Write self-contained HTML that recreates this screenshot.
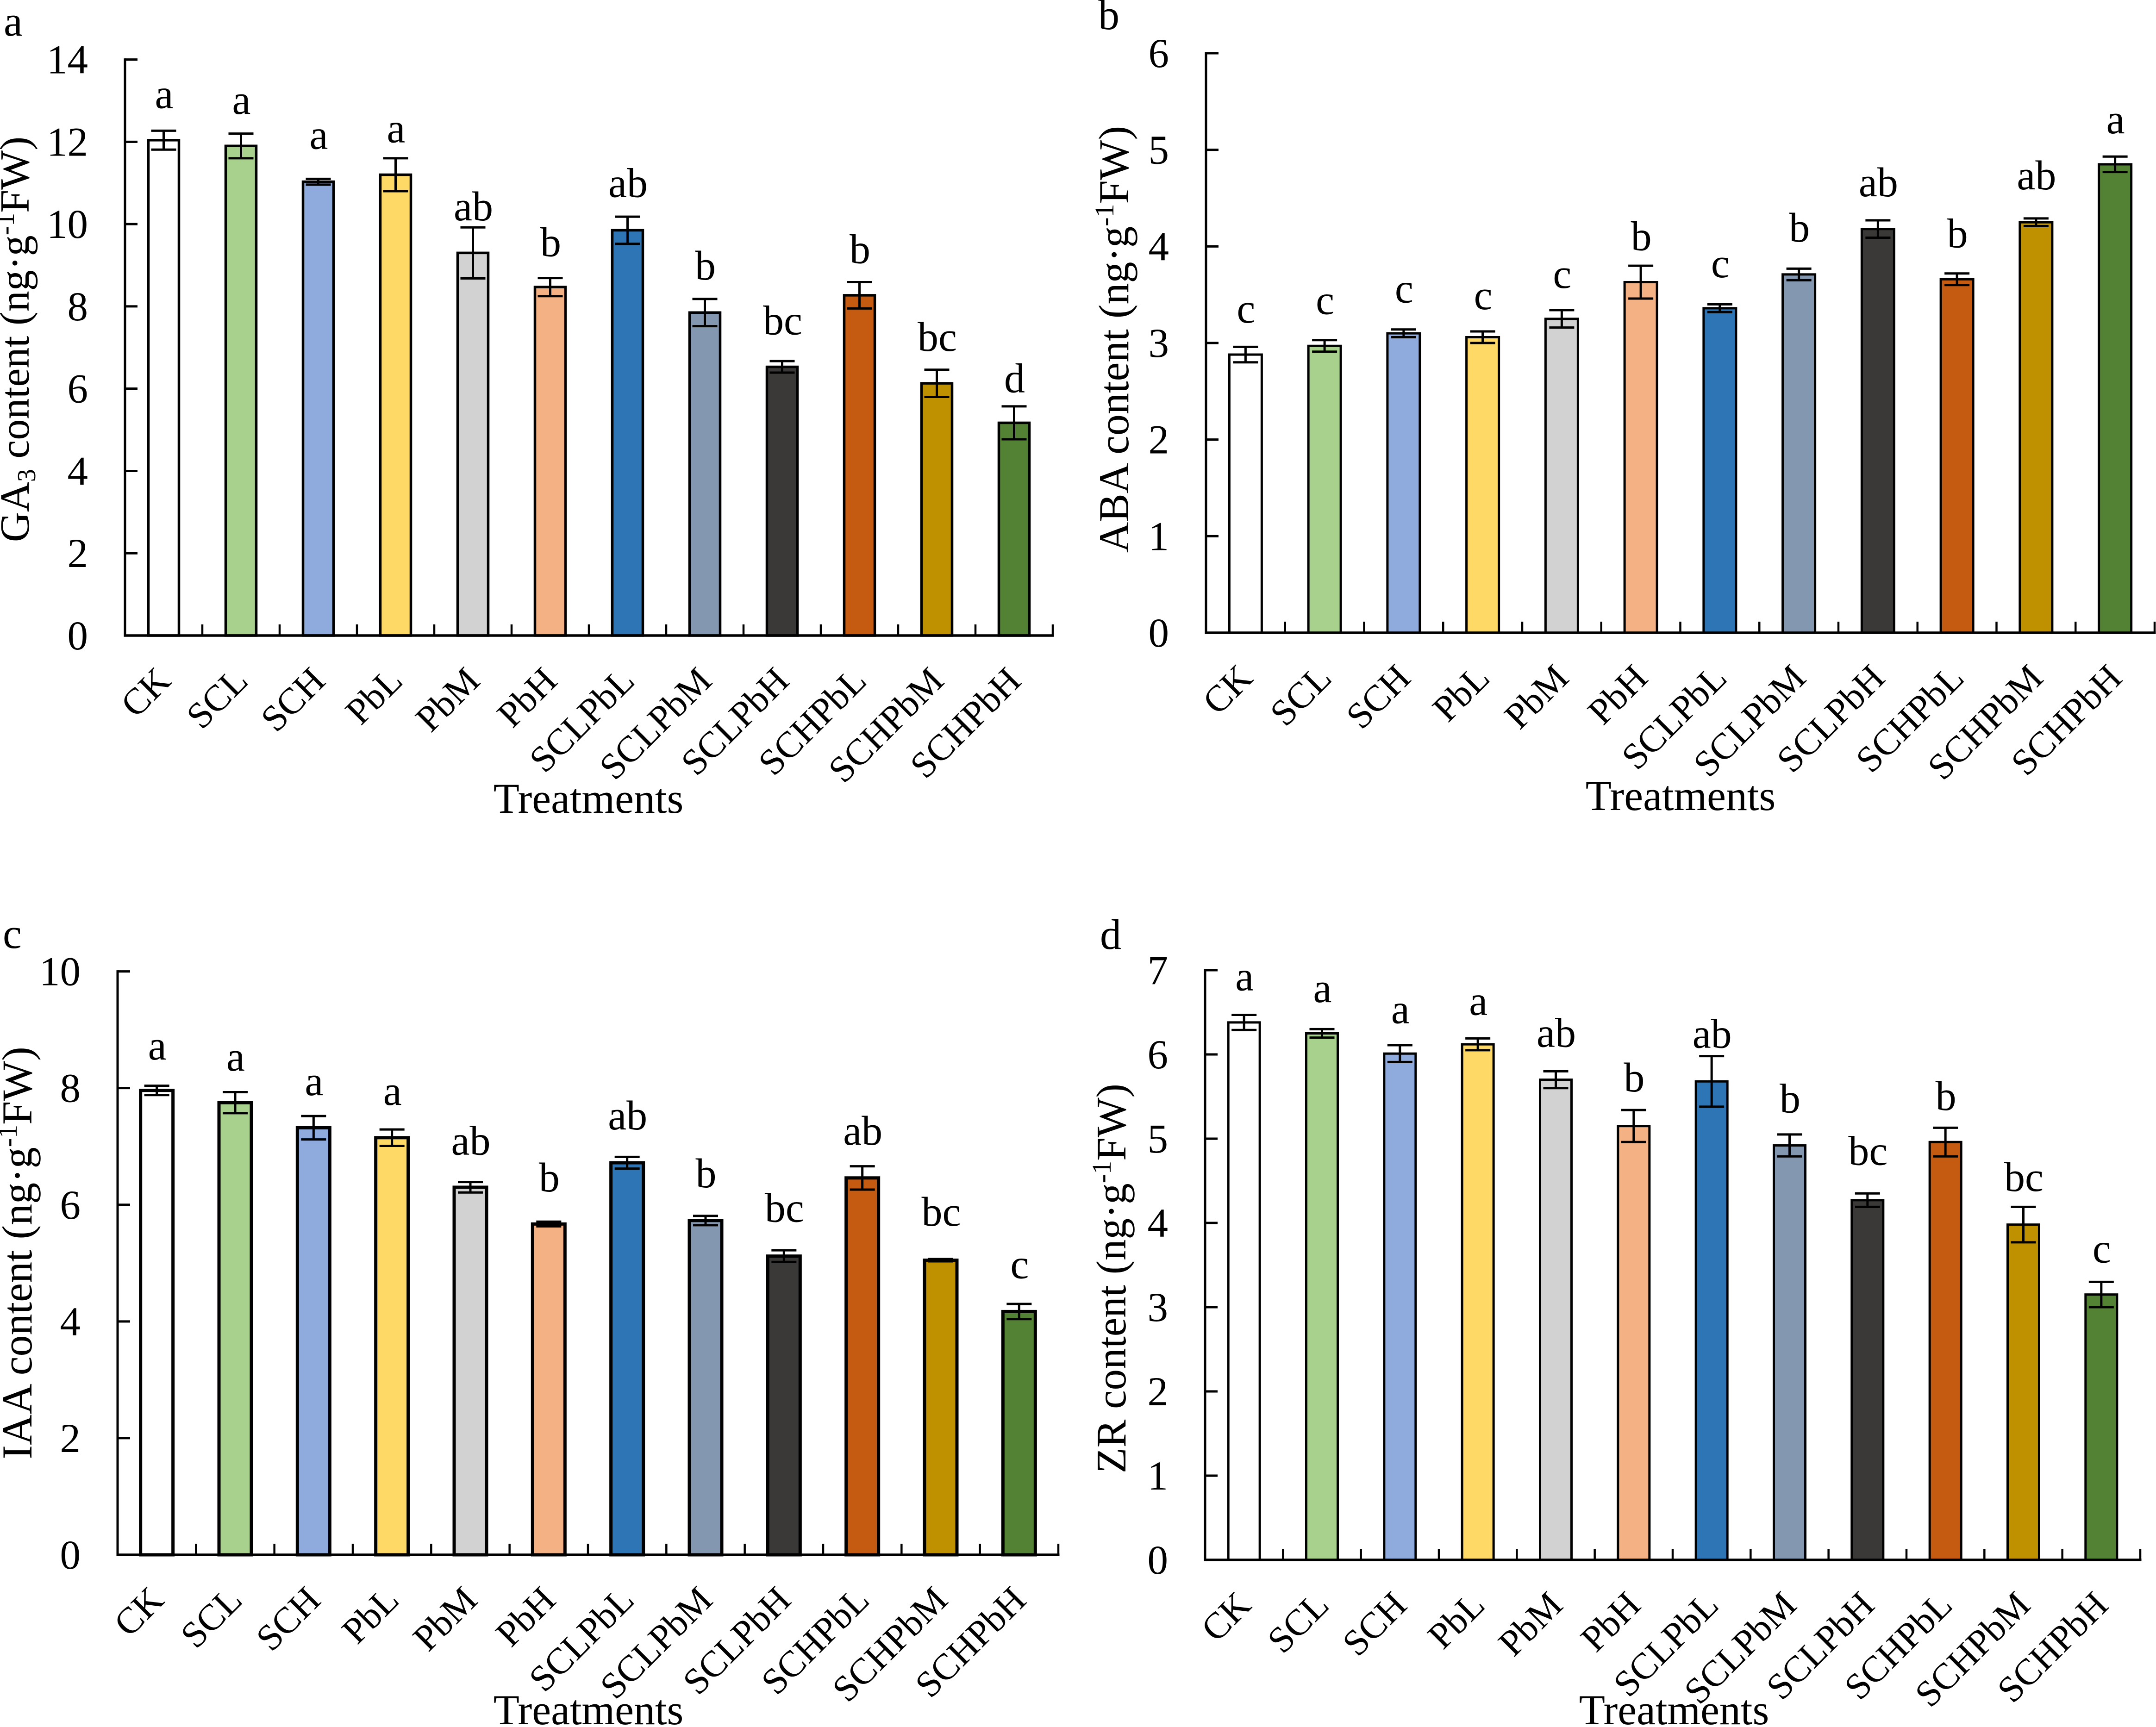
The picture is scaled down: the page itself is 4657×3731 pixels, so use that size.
<!DOCTYPE html>
<html lang="en">
<head>
<meta charset="utf-8">
<title>Hormone content by treatment</title>
<style>
html,body{margin:0;padding:0;background:#fff;width:4657px;height:3731px;overflow:hidden}
svg{display:block}
text{font-family:"Liberation Serif",serif;fill:#000}
</style>
</head>
<body>
<svg id="fig" xmlns="http://www.w3.org/2000/svg" width="4657" height="3731" viewBox="0 0 4657 3731"></svg>
<script>
const categories = ["CK","SCL","SCH","PbL","PbM","PbH","SCLPbL","SCLPbM","SCLPbH","SCHPbL","SCHPbM","SCHPbH"];
const barColors = ["#FFFFFF","#A9D18E","#8FAADC","#FFD966","#D2D2D2","#F4B183","#2E75B6","#8497B0","#3B3838","#C55A11","#BF9000","#548235"];

const gaTicks = [0,2,4,6,8,10,12,14];
const gaValues = [12.04,11.9,11.03,11.2,9.3,8.47,9.85,7.85,6.53,8.27,6.13,5.17];
const gaErrors = [0.23,0.3,0.07,0.4,0.62,0.22,0.33,0.33,0.14,0.32,0.33,0.4];
const gaLetters = ["a","a","a","a","ab","b","ab","b","bc","b","bc","d"];
const gaLetterLift = [0.55,0.48,0.73,0.39,0.17,0.53,0.48,0.47,0.65,0.46,0.46,0.34];

const abaTicks = [0,1,2,3,4,5,6];
const abaValues = [2.88,2.97,3.1,3.06,3.25,3.63,3.36,3.71,4.18,3.66,4.25,4.85];
const abaErrors = [0.08,0.06,0.04,0.06,0.09,0.17,0.04,0.06,0.09,0.06,0.04,0.08];
const abaLetters = ["c","c","c","c","c","b","c","b","ab","b","ab","a"];
const abaLetterLift = [0.25,0.27,0.28,0.23,0.23,0.16,0.28,0.28,0.25,0.27,0.30,0.24];

const iaaTicks = [0,2,4,6,8,10];
const iaaValues = [7.96,7.75,7.32,7.15,6.3,5.67,6.72,5.73,5.12,6.46,5.05,4.17];
const iaaErrors = [0.08,0.18,0.2,0.14,0.09,0.04,0.1,0.08,0.1,0.2,0.02,0.13];
const iaaLetters = ["a","a","a","a","ab","b","ab","b","bc","ab","bc","c"];
const iaaLetterLift = [0.45,0.37,0.36,0.42,0.47,0.52,0.47,0.49,0.49,0.37,0.57,0.44];

const zrTicks = [0,1,2,3,4,5,6,7];
const zrValues = [6.38,6.25,6.01,6.12,5.7,5.15,5.68,4.92,4.27,4.96,3.98,3.15];
const zrErrors = [0.09,0.05,0.1,0.07,0.1,0.19,0.3,0.13,0.08,0.17,0.21,0.15];
const zrLetters = ["a","a","a","a","ab","b","ab","b","bc","b","bc","c"];
const zrLetterLift = [0.29,0.32,0.26,0.28,0.29,0.22,0.10,0.26,0.34,0.21,0.19,0.23];

const NS = "http://www.w3.org/2000/svg";
const fig = document.getElementById("fig");

function make(parent, tag, attrs, txt) {
  const el = document.createElementNS(NS, tag);
  for (const k in attrs) el.setAttribute(k, attrs[k]);
  if (txt !== undefined) el.textContent = txt;
  parent.appendChild(el);
  return el;
}

function drawPanel(p) {
  const g = make(fig, "g", {});
  
  

  const yMax = p.ticks[p.ticks.length - 1];
  const yScale = v => p.y0 - (v / yMax) * (p.y0 - p.yTop);
  const step = (p.xEnd - p.x0) / categories.length;
  const xScale = i => p.x0 + step * (i + 0.5);

  const tag = make(g, "text", {x: p.tagX, y: p.tagY, "font-size": 92}, p.id);
  
  

  categories.forEach((c, i) => {
    const cx = xScale(i);
    const bar = make(g, "rect", {
      x: cx - p.barW / 2, y: yScale(p.values[i]), width: p.barW,
      height: yScale(0) - yScale(p.values[i]),
      fill: barColors[i], stroke: "#000", "stroke-width": p.barStroke
    });
    
    

    const hi = yScale(p.values[i] + p.errors[i]);
    const lo = yScale(p.values[i] - p.errors[i]);
    const eb = make(g, "path", {
      d: "M" + cx + " " + hi + "V" + lo +
         "M" + (cx - 27) + " " + hi + "H" + (cx + 27) +
         "M" + (cx - 27) + " " + lo + "H" + (cx + 27),
      fill: "none", stroke: "#000", "stroke-width": 5
    });
    
    

    const sig = make(g, "text", {
      x: cx + 1, y: yScale(p.values[i] + p.errors[i] + p.lift[i]),
      "font-size": 90, "text-anchor": "middle"
    }, p.letters[i]);
    
    

    const lx = cx + 19, ly = p.y0 + 102;
    const cat = make(g, "text", {
      x: lx, y: ly, "font-size": 80, "text-anchor": "end",
      transform: "rotate(-45 " + lx + " " + ly + ")"
    }, c);
    
    
  });

  for (let i = 1; i <= categories.length; i++) {
    const x = p.x0 + step * i;
    const t = make(g, "line", {x1: x, x2: x, y1: p.y0, y2: p.y0 - 24, stroke: "#000", "stroke-width": 4.5});
    
    
  }

  p.ticks.forEach(v => {
    const y = yScale(v);
    const t = make(g, "line", {x1: p.x0, x2: p.x0 + 27, y1: y, y2: y, stroke: "#000", "stroke-width": 5});
    
    
    const l = make(g, "text", {x: p.x0 - 80, y: y + 30, "font-size": 89, "text-anchor": "end"}, String(v));
    
    
  });

  const yAxis = make(g, "line", {x1: p.x0, x2: p.x0, y1: p.yTop - 2.5, y2: p.y0 + 2.5, stroke: "#000", "stroke-width": 5});
  
  
  const xAxis = make(g, "line", {x1: p.x0 - 2.5, x2: p.xEnd + 2.5, y1: p.y0, y2: p.y0, stroke: "#000", "stroke-width": 5.5});
  
  

  const xt = make(g, "text", {x: p.xTitleX, y: p.xTitleY, "font-size": 92, "text-anchor": "middle"}, "Treatments");
  
  

  const yt = make(g, "text", {
    x: 0, y: 0, "font-size": p.yTitleSize, "text-anchor": "middle",
    transform: "translate(" + p.yTitleX + " " + p.yTitleY + ") rotate(-90)"
  });
  
  
  make(yt, "tspan", {}, p.hormone);
  if (p.sub) {
    make(yt, "tspan", {"font-size": 56, dy: 14}, p.sub);
    make(yt, "tspan", {dy: -14}, " content (ng·g");
  } else {
    make(yt, "tspan", {}, " content (ng·g");
  }
  make(yt, "tspan", {"font-size": 58, dy: -32}, "-1");
  make(yt, "tspan", {dy: 32}, "FW)");
}

drawPanel({id:"a", hormone:"GA", sub:"3", ticks:gaTicks, values:gaValues, errors:gaErrors, letters:gaLetters, lift:gaLetterLift,
  x0:270, xEnd:2274, y0:1373, yTop:128.6, barW:66, barStroke:5.5,
  tagX:8, tagY:77, xTitleX:1271, xTitleY:1756, yTitleX:62, yTitleY:733, yTitleSize:90});
drawPanel({id:"b", hormone:"ABA", sub:"", ticks:abaTicks, values:abaValues, errors:abaErrors, letters:abaLetters, lift:abaLetterLift,
  x0:2605, xEnd:4654, y0:1367, yTop:115, barW:70, barStroke:5,
  tagX:2372, tagY:63, xTitleX:3630, xTitleY:1750, yTitleX:2437, yTitleY:733, yTitleSize:92});
drawPanel({id:"c", hormone:"IAA", sub:"", ticks:iaaTicks, values:iaaValues, errors:iaaErrors, letters:iaaLetters, lift:iaaLetterLift,
  x0:254, xEnd:2286, y0:3359, yTop:2098.6, barW:70, barStroke:7,
  tagX:6, tagY:2048, xTitleX:1271, xTitleY:3725, yTitleX:68, yTitleY:2707, yTitleSize:92});
drawPanel({id:"d", hormone:"ZR", sub:"", ticks:zrTicks, values:zrValues, errors:zrErrors, letters:zrLetters, lift:zrLetterLift,
  x0:2603, xEnd:4623, y0:3370, yTop:2096, barW:68, barStroke:5,
  tagX:2376, tagY:2050, xTitleX:3616, xTitleY:3725, yTitleX:2431, yTitleY:2762, yTitleSize:91});
</script>
</body>
</html>
